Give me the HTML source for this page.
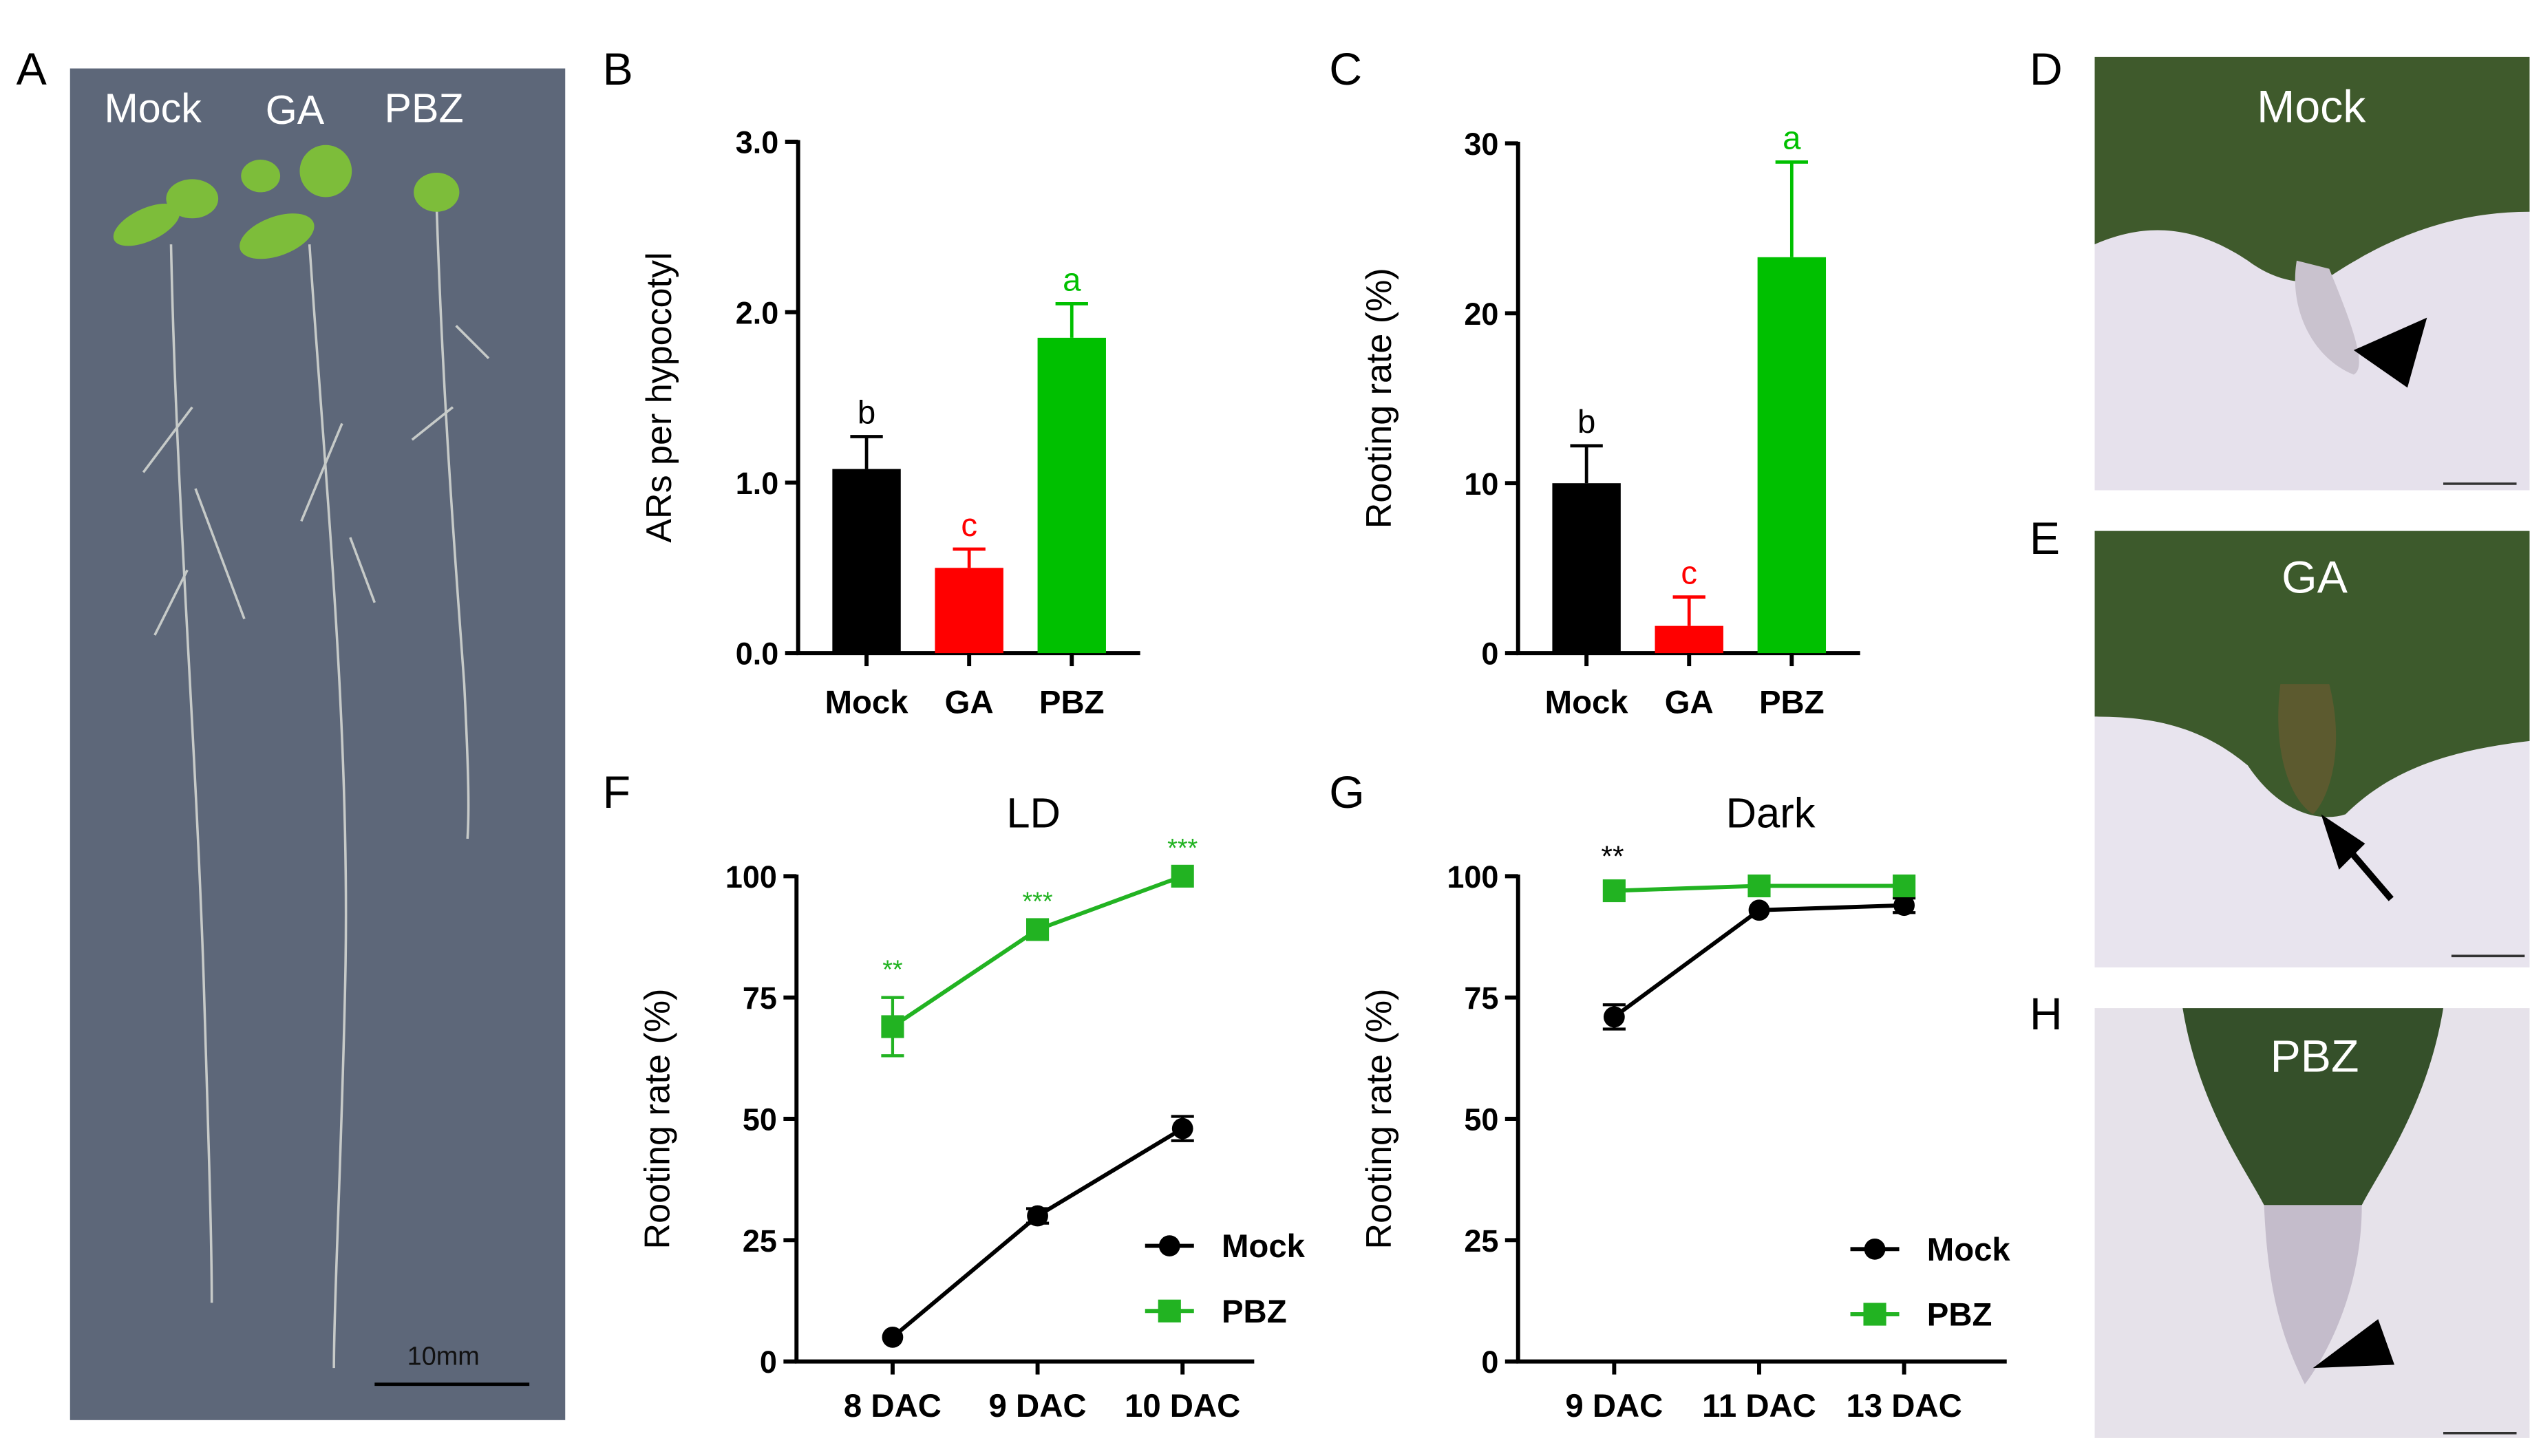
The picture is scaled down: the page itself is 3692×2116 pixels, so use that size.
<!DOCTYPE html>
<html><head><meta charset="utf-8"><style>
html,body{margin:0;padding:0;background:#fff}
svg{display:block}
text{font-family:"Liberation Sans",Arial,sans-serif}
</style></head><body>
<svg id="fig" width="3692" height="2116" viewBox="0 0 1560 894">
<defs>
<linearGradient id="leafg" x1="0" y1="0" x2="0" y2="1"><stop offset="0" stop-color="#3d5a2c"/><stop offset="1" stop-color="#4f6e38"/></linearGradient>
</defs>
<!-- Panel letters -->
<g font-size="28" fill="#000">
<text x="10" y="52">A</text><text x="370" y="52">B</text><text x="816" y="52">C</text>
<text x="1246" y="52">D</text><text x="1246" y="340">E</text><text x="1246" y="632">H</text>
<text x="370" y="496">F</text><text x="816" y="496">G</text>
</g>
<!-- Panel A photo -->
<g>
<rect x="43" y="42" width="304" height="830" fill="#5d6779"/>
<g fill="#fff" font-size="25"><text x="64" y="75">Mock</text><text x="163" y="76">GA</text><text x="236" y="75">PBZ</text></g>
<g stroke="#d9dcd6" stroke-width="1.5" fill="none" opacity="0.85">
<path d="M105 150 C108 300 120 450 125 600 C128 700 130 760 130 800"/>
<path d="M190 150 C200 300 215 450 212 600 C210 700 205 800 205 840"/>
<path d="M268 125 C272 250 280 350 285 420 C288 480 288 500 287 515"/>
<path d="M118 250 l-30 40 M120 300 l30 80 M115 350 l-20 40 M210 260 l-25 60 M215 330 l15 40 M280 200 l20 20 M278 250 l-25 20"/>
</g>
<g fill="#7dbd3a">
<ellipse cx="90" cy="138" rx="22" ry="10" transform="rotate(-25 90 138)"/><ellipse cx="118" cy="122" rx="16" ry="12"/>
<ellipse cx="170" cy="145" rx="24" ry="12" transform="rotate(-20 170 145)"/><ellipse cx="200" cy="105" rx="16" ry="16"/><ellipse cx="160" cy="108" rx="12" ry="10"/>
<ellipse cx="268" cy="118" rx="14" ry="12"/>
</g>
<line x1="230" y1="850" x2="325" y2="850" stroke="#000" stroke-width="2"/>
<text x="250" y="838" font-size="16" fill="#111">10mm</text>
</g>
<!-- Photos D E H -->
<g>
<rect x="1286" y="35" width="267" height="266" fill="#e6e1ec"/>
<path d="M1286 35 H1553 V130 C1500 130 1460 150 1430 170 C1420 175 1400 175 1380 160 C1350 140 1320 135 1286 150 Z" fill="#3f5a2c"/>
<path d="M1410 160 C1405 190 1420 220 1445 230 C1455 225 1440 190 1430 165 Z" fill="#c9c2ce"/>
<polygon points="1445,215 1490,195 1478,238" fill="#000"/>
<text x="1419" y="75" font-size="28" fill="#fff" text-anchor="middle">Mock</text>
<line x1="1500" y1="297" x2="1545" y2="297" stroke="#333" stroke-width="1.5"/>
</g>
<g>
<rect x="1286" y="326" width="267" height="268" fill="#e8e4ee"/>
<path d="M1286 326 H1553 V455 C1510 460 1470 470 1440 500 C1425 505 1400 500 1380 470 C1350 445 1320 440 1286 440 Z" fill="#3d5a2c"/>
<path d="M1400 420 C1395 460 1405 490 1420 500 C1430 490 1440 460 1430 420 Z" fill="#6a5a30" opacity="0.7"/>
<line x1="1468" y1="552" x2="1432" y2="510" stroke="#000" stroke-width="4"/>
<polygon points="1425,500 1452,518 1436,534" fill="#000"/>
<text x="1421" y="364" font-size="28" fill="#fff" text-anchor="middle">GA</text>
<line x1="1505" y1="587" x2="1550" y2="587" stroke="#333" stroke-width="1.5"/>
</g>
<g>
<rect x="1286" y="619" width="267" height="264" fill="#e6e2ea"/>
<path d="M1340 619 H1500 C1490 680 1460 720 1450 740 H1390 C1380 720 1350 680 1340 619 Z" fill="#35502a"/>
<path d="M1390 740 H1450 C1450 790 1430 830 1415 850 C1400 820 1392 790 1390 740 Z" fill="#c4bccb"/>
<polygon points="1420,840 1460,810 1470,838" fill="#000"/>
<text x="1421" y="658" font-size="28" fill="#fff" text-anchor="middle">PBZ</text>
<line x1="1500" y1="880" x2="1545" y2="880" stroke="#333" stroke-width="1.5"/>
</g>
<g id="charts"></g>
</svg>
<script>
// Chart B data
const bCats=["Mock","GA","PBZ"];
const bVals=[1.08,0.5,1.85];
const bErr=[0.19,0.11,0.2];
const bLetters=["b","c","a"];
const bTicks=[0,1,2,3];
const bTickLabels=["0.0","1.0","2.0","3.0"];
// Chart C data
const cVals=[10,1.6,23.3];
const cErr=[2.2,1.7,5.6];
const cTicks=[0,10,20,30];
const cTickLabels=["0","10","20","30"];
// Chart F data
const fCats=["8 DAC","9 DAC","10 DAC"];
const fMock=[5,30,48];
const fMockErr=[0,1.5,2.5];
const fPBZ=[69,89,100];
const fPBZErr=[6,0,0];
const fStars=["**","***","***"];
// Chart G data
const gCats=["9 DAC","11 DAC","13 DAC"];
const gMock=[71,93,94];
const gMockErr=[2.5,0,1.5];
const gPBZ=[97,98,98];
const gPBZErr=[0,0,0];
const gStars=["**","",""];
const lineTicks=[0,25,50,75,100];

const NS="http://www.w3.org/2000/svg";
const root=document.getElementById("charts");
function el(tag,attrs,parent,txt){const e=document.createElementNS(NS,tag);for(const k in attrs)e.setAttribute(k,attrs[k]);if(txt!==undefined)e.textContent=txt;(parent||root).appendChild(e);return e;}
const colors=["#000","#ff0000","#00c000"];
const green="#22b322";

function barChart(name,x0,yTop,yBot,xEnd,max,vals,err,ticks,labels,ytitle){
  const g=el("g",{});
  
  
  const ys=v=>yBot-(v/max)*(yBot-yTop);
  const centers=[x0+42,x0+105,x0+168];
  el("line",{x1:x0,y1:yTop-1,x2:x0,y2:yBot,stroke:"#000","stroke-width":2.5},g);
  el("line",{x1:x0-1,y1:yBot,x2:xEnd,y2:yBot,stroke:"#000","stroke-width":2.5},g);
  ticks.forEach((t,i)=>{const y=ys(t);
    el("line",{x1:x0-8,y1:y,x2:x0,y2:y,stroke:"#000","stroke-width":2.5},g);
    const tl=el("text",{x:x0-12,y:y+7,"font-size":19,"font-weight":"bold","text-anchor":"end"},g,labels[i]);
    
    
  });
  vals.forEach((v,i)=>{const cx=centers[i];const y=ys(v);const ye=ys(v+err[i]);
    el("line",{x1:cx,y1:y,x2:cx,y2:ye,stroke:colors[i],"stroke-width":2},g);
    el("line",{x1:cx-10,y1:ye,x2:cx+10,y2:ye,stroke:colors[i],"stroke-width":2},g);
    const r=el("rect",{x:cx-21,y:y,width:42,height:yBot-y,fill:colors[i]},g);
    
    
    el("text",{x:cx,y:ye-8,"font-size":20,fill:colors[i],"text-anchor":"middle"},g,bLetters[i]);
    el("line",{x1:cx,y1:yBot,x2:cx,y2:yBot+8,stroke:"#000","stroke-width":2.5},g);
    const xl=el("text",{x:cx,y:yBot+37,"font-size":20,"font-weight":"bold","text-anchor":"middle"},g,bCats[i]);
    
    
  });
  const t=el("text",{x:0,y:0,"font-size":22,"text-anchor":"middle",transform:`translate(${x0-78},${(yTop+yBot)/2}) rotate(-90)`},g,ytitle);
  
  
}
barChart("chart-b",490,87,401,700,3,bVals,bErr,bTicks,bTickLabels,"ARs per hypocotyl");
barChart("chart-c",932,88,401,1142,30,cVals,cErr,cTicks,cTickLabels,"Rooting rate (%)");

function lineChart(name,x0,yTop,yBot,xEnd,cats,mock,mockErr,pbz,pbzErr,stars,starColor,title,legX,legY){
  const g=el("g",{});
  
  
  const ys=v=>yBot-(v/100)*(yBot-yTop);
  const xs=i=>x0+59+i*89;
  el("line",{x1:x0,y1:yTop-1,x2:x0,y2:yBot,stroke:"#000","stroke-width":2.5},g);
  el("line",{x1:x0-1,y1:yBot,x2:xEnd,y2:yBot,stroke:"#000","stroke-width":2.5},g);
  lineTicks.forEach(t=>{const y=ys(t);
    el("line",{x1:x0-8,y1:y,x2:x0,y2:y,stroke:"#000","stroke-width":2.5},g);
    const tl=el("text",{x:x0-12,y:y+7,"font-size":19,"font-weight":"bold","text-anchor":"end"},g,String(t));
    
    
  });
  cats.forEach((c,i)=>{
    el("line",{x1:xs(i),y1:yBot,x2:xs(i),y2:yBot+8,stroke:"#000","stroke-width":2.5},g);
    const xl=el("text",{x:xs(i),y:yBot+34,"font-size":20,"font-weight":"bold","text-anchor":"middle"},g,c);
    
    
  });
  function series(vals,errs,color,sq,sname){
    el("polyline",{points:vals.map((v,i)=>xs(i)+","+ys(v)).join(" "),fill:"none",stroke:color,"stroke-width":2.5},g);
    vals.forEach((v,i)=>{
      if(errs[i]>0){const a=ys(v+errs[i]),b=ys(v-errs[i]);
        el("line",{x1:xs(i),y1:a,x2:xs(i),y2:b,stroke:color,"stroke-width":1.8},g);
        el("line",{x1:xs(i)-7,y1:a,x2:xs(i)+7,y2:a,stroke:color,"stroke-width":1.8},g);
        el("line",{x1:xs(i)-7,y1:b,x2:xs(i)+7,y2:b,stroke:color,"stroke-width":1.8},g);}
      const m=sq?el("rect",{x:xs(i)-7,y:ys(v)-7,width:14,height:14,fill:color},g):el("circle",{cx:xs(i),cy:ys(v),r:6.5,fill:color},g);
      
      
    });
  }
  series(mock,mockErr,"#000",false,"mock");
  series(pbz,pbzErr,green,true,"pbz");
  stars.forEach((s,i)=>{if(s)el("text",{x:xs(i),y:ys(pbz[i]+pbzErr[i])-12,"font-size":16,fill:starColor,"text-anchor":"middle"},g,s);});
  const tt=el("text",{x:(x0+xEnd)/2+5,y:yTop-30,"font-size":26,"text-anchor":"middle"},g,title);
  
  
  const yt=el("text",{x:0,y:0,"font-size":22,"text-anchor":"middle",transform:`translate(${x0-78},${(yTop+yBot)/2}) rotate(-90)`},g,"Rooting rate (%)");
  
  
  const l1=el("g",{},g);
  
  
  el("line",{x1:legX,y1:legY,x2:legX+30,y2:legY,stroke:"#000","stroke-width":2.5},l1);
  el("circle",{cx:legX+15,cy:legY,r:6.5,fill:"#000"},l1);
  el("text",{x:legX+47,y:legY+7,"font-size":20,"font-weight":"bold"},l1,"Mock");
  const l2=el("g",{},g);
  
  
  el("line",{x1:legX,y1:legY+40,x2:legX+30,y2:legY+40,stroke:green,"stroke-width":2.5},l2);
  el("rect",{x:legX+8,y:legY+33,width:14,height:14,fill:green},l2);
  el("text",{x:legX+47,y:legY+47,"font-size":20,"font-weight":"bold"},l2,"PBZ");
}
lineChart("chart-f",489,538,836,770,fCats,fMock,fMockErr,fPBZ,fPBZErr,fStars,green,"LD",703,765);
lineChart("chart-g",932,538,836,1232,gCats,gMock,gMockErr,gPBZ,gPBZErr,[],"#000","Dark",1136,767);
const st=el("text",{x:990,y:532,"font-size":18,fill:"#000","text-anchor":"middle"},root,"**");


</script>
</body></html>
